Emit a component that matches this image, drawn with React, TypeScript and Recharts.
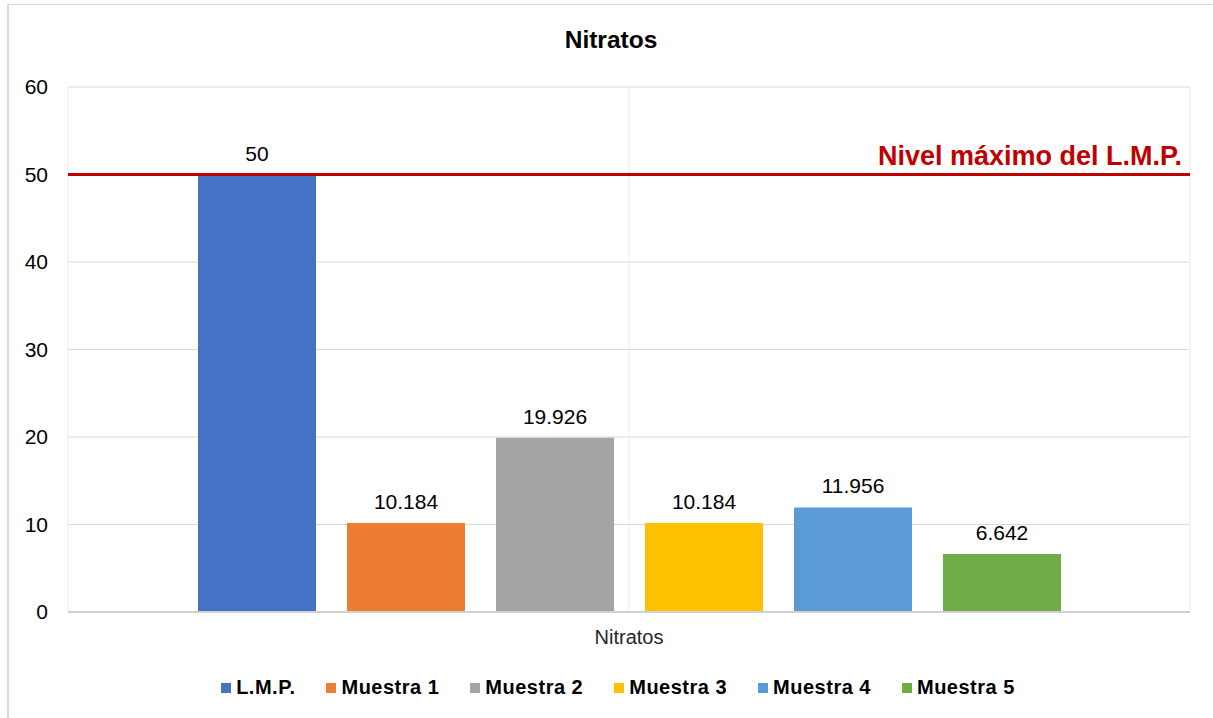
import { BarChart, Bar, XAxis, YAxis, CartesianGrid, ReferenceLine, LabelList } from "recharts";

// Nitratos - one category, six samples compared to the L.M.P. limit

const categories = ["Nitratos"];
const seriesKeys = ["lmp", "m1", "m2", "m3", "m4", "m5"];
const seriesNames = ["L.M.P.", "Muestra 1", "Muestra 2", "Muestra 3", "Muestra 4", "Muestra 5"];
const seriesValues = [50, 10.184, 19.926, 10.184, 11.956, 6.642];
const seriesColors = ["#4472C4", "#ED7D31", "#A5A5A5", "#FFC000", "#5B9BD5", "#70AD47"];
const yTicks = [0, 10, 20, 30, 40, 50, 60];
const limitValue = 50;
const limitLabel = "Nivel máximo del L.M.P.";
const chartTitle = "Nitratos";

const FONT = '"Liberation Sans", Arial, sans-serif';

const chartData = categories.map((name) => {
  const row: any = { name };
  seriesKeys.forEach((key, i) => {
    row[key] = seriesValues[i];
  });
  return row;
});

function LimitLabel(props: any) {
  const { viewBox } = props;
  if (!viewBox) return null;
  return (
    <text
      x={viewBox.x + viewBox.width - 8}
      y={viewBox.y - 10}
      textAnchor="end"
      fill="#C00000"
      fontSize={27}
      fontWeight="bold"
      fontFamily={FONT}
    >
      {limitLabel}
    </text>
  );
}

export default function App() {
  return (
    <div style={{ position: "absolute", left: 0, top: 0, width: 1213, height: 718, background: "#fff", fontFamily: FONT }}>
      <div
        style={{
          position: "absolute",
          left: 7,
          top: 4,
          width: 1206,
          height: 714,
          boxSizing: "border-box",
          borderTop: "1px solid #d9d9d9",
          borderLeft: "2px solid #d9d9d9",
        }}
      />
      <div
        style={{
          position: "absolute",
          left: 0,
          top: 26,
          width: 1222,
          textAlign: "center",
          fontSize: 24.5,
          fontWeight: "bold",
          color: "#000",
        }}
      >
        {chartTitle}
      </div>

      <div style={{ position: "absolute", left: 0, top: 0 }}>
        <BarChart
          width={1213}
          height={718}
          data={chartData}
          margin={{ top: 87, right: 23, left: 8, bottom: 66 }}
          barSize={118}
          barGap={31}
        >
          <CartesianGrid vertical={false} stroke="#d9d9d9" />
          <CartesianGrid
            horizontal={false}
            stroke="#ececec"
            verticalCoordinatesGenerator={({ offset }: any) => [
              offset.left,
              offset.left + offset.width / 2,
              offset.left + offset.width,
            ]}
          />
          <XAxis
            dataKey="name"
            axisLine={{ stroke: "#d0d0d0", strokeWidth: 2 }}
            tickLine={false}
            tickMargin={12}
            height={40}
            tick={{ fill: "#262626", fontSize: 20, fontFamily: FONT }}
          />
          <YAxis
            domain={[0, 60]}
            ticks={yTicks}
            width={60}
            axisLine={false}
            tickLine={false}
            tickSize={0}
            tickMargin={20}
            tick={{ fill: "#000", fontSize: 21, fontFamily: FONT }}
          />
          {seriesKeys.map((key, i) => (
            <Bar key={key} dataKey={key} name={seriesNames[i]} fill={seriesColors[i]} isAnimationActive={false}>
              <LabelList
                dataKey={key}
                position="top"
                offset={14}
                fill="#000"
                fontSize={21}
                fontFamily={FONT}
              />
            </Bar>
          ))}
          <ReferenceLine y={limitValue} stroke="#C00000" strokeWidth={3} label={<LimitLabel />} />
        </BarChart>
      </div>

      <div
        style={{
          position: "absolute",
          left: 0,
          top: 676,
          width: 1236,
          display: "flex",
          justifyContent: "center",
          gap: 31,
          fontSize: 20,
          letterSpacing: 0.5,
          fontWeight: "bold",
          color: "#000",
        }}
      >
        {seriesNames.map((name, i) => (
          <div key={name} style={{ display: "flex", alignItems: "center", gap: 5 }}>
            <span style={{ width: 10, height: 10, background: seriesColors[i], display: "inline-block" }} />
            <span>{name}</span>
          </div>
        ))}
      </div>
    </div>
  );
}
